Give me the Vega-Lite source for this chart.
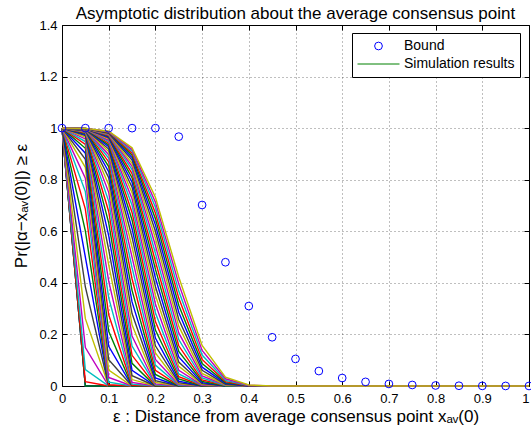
{
"$schema":"https://vega.github.io/schema/vega-lite/v6.json",
"width":467,"height":361,
"autosize":{"type":"none"},
"padding":{"left":62,"top":25,"right":2,"bottom":48},
"background":"white",
"title":{"text":"Asymptotic distribution about the average consensus point","font":"Liberation Sans","fontSize":17,"fontWeight":"normal","color":"#000","anchor":"middle","offset":-4,"frame":"group"},
"config":{"view":{"stroke":"#000","strokeWidth":1},"font":"Liberation Sans",
"axis":{"labelFont":"Liberation Sans","labelFontSize":13,"labelColor":"#000","titleFont":"Liberation Sans","titleFontSize":17,"titleFontWeight":"normal","titleColor":"#000","tickColor":"#000","tickSize":-5,"domain":false,"gridColor":"#000","gridOpacity":0.5,"gridDash":[1,3],"gridWidth":1,"labelFlush":false,"labelOverlap":false}},
"datasets":{
"bound":[{"x":0,"y":1,"k":"Bound"},{"x":0.05,"y":1,"k":"Bound"},{"x":0.1,"y":1,"k":"Bound"},{"x":0.15,"y":1,"k":"Bound"},{"x":0.2,"y":1,"k":"Bound"},{"x":0.25,"y":0.967,"k":"Bound"},{"x":0.3,"y":0.702,"k":"Bound"},{"x":0.35,"y":0.48,"k":"Bound"},{"x":0.4,"y":0.31,"k":"Bound"},{"x":0.45,"y":0.189,"k":"Bound"},{"x":0.5,"y":0.105,"k":"Bound"},{"x":0.55,"y":0.058,"k":"Bound"},{"x":0.6,"y":0.031,"k":"Bound"},{"x":0.65,"y":0.016,"k":"Bound"},{"x":0.7,"y":0.008,"k":"Bound"},{"x":0.75,"y":0.004,"k":"Bound"},{"x":0.8,"y":0.002,"k":"Bound"},{"x":0.85,"y":0.001,"k":"Bound"},{"x":0.9,"y":0.0005,"k":"Bound"},{"x":0.95,"y":0.0002,"k":"Bound"},{"x":1,"y":0.0001,"k":"Bound"}],
"sim":[
{"s":1,"x":0,"y":1},{"s":1,"x":0.05,"y":0},{"s":1,"x":1,"y":0},
{"s":2,"x":0,"y":1},{"s":2,"x":0.05,"y":0},{"s":2,"x":1,"y":0},
{"s":3,"x":0,"y":1},{"s":3,"x":0.05,"y":0},{"s":3,"x":1,"y":0},
{"s":4,"x":0,"y":1},{"s":4,"x":0.05,"y":0.017},{"s":4,"x":0.1,"y":0},{"s":4,"x":1,"y":0},
{"s":5,"x":0,"y":1},{"s":5,"x":0.05,"y":0.064},{"s":5,"x":0.1,"y":0},{"s":5,"x":1,"y":0},
{"s":6,"x":0,"y":1},{"s":6,"x":0.05,"y":0.149},{"s":6,"x":0.1,"y":0},{"s":6,"x":1,"y":0},
{"s":7,"x":0,"y":1},{"s":7,"x":0.05,"y":0.261},{"s":7,"x":0.1,"y":0},{"s":7,"x":1,"y":0},
{"s":8,"x":0,"y":1},{"s":8,"x":0.05,"y":0.384},{"s":8,"x":0.1,"y":0},{"s":8,"x":1,"y":0},
{"s":9,"x":0,"y":1},{"s":9,"x":0.05,"y":0.5},{"s":9,"x":0.1,"y":0},{"s":9,"x":1,"y":0},
{"s":10,"x":0,"y":1},{"s":10,"x":0.05,"y":0.602},{"s":10,"x":0.1,"y":0},{"s":10,"x":1,"y":0},
{"s":11,"x":0,"y":1},{"s":11,"x":0.05,"y":0.686},{"s":11,"x":0.1,"y":0.005},{"s":11,"x":0.15,"y":0},{"s":11,"x":1,"y":0},
{"s":12,"x":0,"y":1},{"s":12,"x":0.05,"y":0.754},{"s":12,"x":0.1,"y":0.015},{"s":12,"x":0.15,"y":0},{"s":12,"x":1,"y":0},
{"s":13,"x":0,"y":1},{"s":13,"x":0.05,"y":0.806},{"s":13,"x":0.1,"y":0.033},{"s":13,"x":0.15,"y":0},{"s":13,"x":1,"y":0},
{"s":14,"x":0,"y":1},{"s":14,"x":0.05,"y":0.848},{"s":14,"x":0.1,"y":0.062},{"s":14,"x":0.15,"y":0},{"s":14,"x":1,"y":0},
{"s":15,"x":0,"y":1},{"s":15,"x":0.05,"y":0.879},{"s":15,"x":0.1,"y":0.102},{"s":15,"x":0.15,"y":0},{"s":15,"x":1,"y":0},
{"s":16,"x":0,"y":1},{"s":16,"x":0.05,"y":0.903},{"s":16,"x":0.1,"y":0.154},{"s":16,"x":0.15,"y":0},{"s":16,"x":1,"y":0},
{"s":17,"x":0,"y":1},{"s":17,"x":0.05,"y":0.922},{"s":17,"x":0.1,"y":0.212},{"s":17,"x":0.15,"y":0},{"s":17,"x":1,"y":0},
{"s":18,"x":0,"y":1},{"s":18,"x":0.05,"y":0.937},{"s":18,"x":0.1,"y":0.276},{"s":18,"x":0.15,"y":0.003},{"s":18,"x":0.2,"y":0},{"s":18,"x":1,"y":0},
{"s":19,"x":0,"y":1},{"s":19,"x":0.05,"y":0.948},{"s":19,"x":0.1,"y":0.342},{"s":19,"x":0.15,"y":0.007},{"s":19,"x":0.2,"y":0},{"s":19,"x":1,"y":0},
{"s":20,"x":0,"y":1},{"s":20,"x":0.05,"y":0.958},{"s":20,"x":0.1,"y":0.407},{"s":20,"x":0.15,"y":0.014},{"s":20,"x":0.2,"y":0},{"s":20,"x":1,"y":0},
{"s":21,"x":0,"y":1},{"s":21,"x":0.05,"y":0.965},{"s":21,"x":0.1,"y":0.47},{"s":21,"x":0.15,"y":0.025},{"s":21,"x":0.2,"y":0},{"s":21,"x":1,"y":0},
{"s":22,"x":0,"y":1},{"s":22,"x":0.05,"y":0.971},{"s":22,"x":0.1,"y":0.529},{"s":22,"x":0.15,"y":0.04},{"s":22,"x":0.2,"y":0},{"s":22,"x":1,"y":0},
{"s":23,"x":0,"y":1},{"s":23,"x":0.05,"y":0.975},{"s":23,"x":0.1,"y":0.583},{"s":23,"x":0.15,"y":0.061},{"s":23,"x":0.2,"y":0},{"s":23,"x":1,"y":0},
{"s":24,"x":0,"y":1},{"s":24,"x":0.05,"y":0.979},{"s":24,"x":0.1,"y":0.633},{"s":24,"x":0.15,"y":0.088},{"s":24,"x":0.2,"y":0},{"s":24,"x":1,"y":0},
{"s":25,"x":0,"y":1},{"s":25,"x":0.05,"y":0.982},{"s":25,"x":0.1,"y":0.677},{"s":25,"x":0.15,"y":0.119},{"s":25,"x":0.2,"y":0.002},{"s":25,"x":0.25,"y":0},{"s":25,"x":1,"y":0},
{"s":26,"x":0,"y":1},{"s":26,"x":0.05,"y":0.985},{"s":26,"x":0.1,"y":0.716},{"s":26,"x":0.15,"y":0.155},{"s":26,"x":0.2,"y":0.005},{"s":26,"x":0.25,"y":0},{"s":26,"x":1,"y":0},
{"s":27,"x":0,"y":1},{"s":27,"x":0.05,"y":0.987},{"s":27,"x":0.1,"y":0.751},{"s":27,"x":0.15,"y":0.194},{"s":27,"x":0.2,"y":0.008},{"s":27,"x":0.25,"y":0},{"s":27,"x":1,"y":0},
{"s":28,"x":0,"y":1},{"s":28,"x":0.05,"y":0.988},{"s":28,"x":0.1,"y":0.781},{"s":28,"x":0.15,"y":0.237},{"s":28,"x":0.2,"y":0.014},{"s":28,"x":0.25,"y":0},{"s":28,"x":1,"y":0},
{"s":29,"x":0,"y":1},{"s":29,"x":0.05,"y":0.99},{"s":29,"x":0.1,"y":0.808},{"s":29,"x":0.15,"y":0.281},{"s":29,"x":0.2,"y":0.021},{"s":29,"x":0.25,"y":0},{"s":29,"x":1,"y":0},
{"s":30,"x":0,"y":1},{"s":30,"x":0.05,"y":0.991},{"s":30,"x":0.1,"y":0.831},{"s":30,"x":0.15,"y":0.326},{"s":30,"x":0.2,"y":0.031},{"s":30,"x":0.25,"y":0},{"s":30,"x":1,"y":0},
{"s":31,"x":0,"y":1},{"s":31,"x":0.05,"y":0.992},{"s":31,"x":0.1,"y":0.851},{"s":31,"x":0.15,"y":0.371},{"s":31,"x":0.2,"y":0.045},{"s":31,"x":0.25,"y":0},{"s":31,"x":1,"y":0},
{"s":32,"x":0,"y":1},{"s":32,"x":0.05,"y":0.993},{"s":32,"x":0.1,"y":0.869},{"s":32,"x":0.15,"y":0.416},{"s":32,"x":0.2,"y":0.061},{"s":32,"x":0.25,"y":0.002},{"s":32,"x":0.3,"y":0},{"s":32,"x":1,"y":0},
{"s":33,"x":0,"y":1},{"s":33,"x":0.05,"y":0.994},{"s":33,"x":0.1,"y":0.884},{"s":33,"x":0.15,"y":0.459},{"s":33,"x":0.2,"y":0.081},{"s":33,"x":0.25,"y":0.003},{"s":33,"x":0.3,"y":0},{"s":33,"x":1,"y":0},
{"s":34,"x":0,"y":1},{"s":34,"x":0.05,"y":0.994},{"s":34,"x":0.1,"y":0.897},{"s":34,"x":0.15,"y":0.5},{"s":34,"x":0.2,"y":0.103},{"s":34,"x":0.25,"y":0.006},{"s":34,"x":0.3,"y":0},{"s":34,"x":1,"y":0},
{"s":35,"x":0,"y":1},{"s":35,"x":0.05,"y":0.995},{"s":35,"x":0.1,"y":0.909},{"s":35,"x":0.15,"y":0.539},{"s":35,"x":0.2,"y":0.128},{"s":35,"x":0.25,"y":0.009},{"s":35,"x":0.3,"y":0},{"s":35,"x":1,"y":0},
{"s":36,"x":0,"y":1},{"s":36,"x":0.05,"y":0.995},{"s":36,"x":0.1,"y":0.919},{"s":36,"x":0.15,"y":0.577},{"s":36,"x":0.2,"y":0.156},{"s":36,"x":0.25,"y":0.013},{"s":36,"x":0.3,"y":0},{"s":36,"x":1,"y":0},
{"s":37,"x":0,"y":1},{"s":37,"x":0.05,"y":0.996},{"s":37,"x":0.1,"y":0.928},{"s":37,"x":0.15,"y":0.611},{"s":37,"x":0.2,"y":0.186},{"s":37,"x":0.25,"y":0.019},{"s":37,"x":0.3,"y":0},{"s":37,"x":1,"y":0},
{"s":38,"x":0,"y":1},{"s":38,"x":0.05,"y":0.996},{"s":38,"x":0.1,"y":0.935},{"s":38,"x":0.15,"y":0.644},{"s":38,"x":0.2,"y":0.217},{"s":38,"x":0.25,"y":0.027},{"s":38,"x":0.3,"y":0},{"s":38,"x":1,"y":0},
{"s":39,"x":0,"y":1},{"s":39,"x":0.05,"y":0.997},{"s":39,"x":0.1,"y":0.942},{"s":39,"x":0.15,"y":0.673},{"s":39,"x":0.2,"y":0.25},{"s":39,"x":0.25,"y":0.036},{"s":39,"x":0.3,"y":0.002},{"s":39,"x":0.35,"y":0},{"s":39,"x":1,"y":0},
{"s":40,"x":0,"y":1},{"s":40,"x":0.05,"y":0.997},{"s":40,"x":0.1,"y":0.948},{"s":40,"x":0.15,"y":0.701},{"s":40,"x":0.2,"y":0.284},{"s":40,"x":0.25,"y":0.047},{"s":40,"x":0.3,"y":0.003},{"s":40,"x":0.35,"y":0},{"s":40,"x":1,"y":0},
{"s":41,"x":0,"y":1},{"s":41,"x":0.05,"y":0.997},{"s":41,"x":0.1,"y":0.953},{"s":41,"x":0.15,"y":0.726},{"s":41,"x":0.2,"y":0.318},{"s":41,"x":0.25,"y":0.061},{"s":41,"x":0.3,"y":0.004},{"s":41,"x":0.35,"y":0},{"s":41,"x":1,"y":0},
{"s":42,"x":0,"y":1},{"s":42,"x":0.05,"y":0.997},{"s":42,"x":0.1,"y":0.958},{"s":42,"x":0.15,"y":0.75},{"s":42,"x":0.2,"y":0.352},{"s":42,"x":0.25,"y":0.076},{"s":42,"x":0.3,"y":0.007},{"s":42,"x":0.35,"y":0},{"s":42,"x":1,"y":0},
{"s":43,"x":0,"y":1},{"s":43,"x":0.05,"y":0.997},{"s":43,"x":0.1,"y":0.962},{"s":43,"x":0.15,"y":0.771},{"s":43,"x":0.2,"y":0.386},{"s":43,"x":0.25,"y":0.093},{"s":43,"x":0.3,"y":0.009},{"s":43,"x":0.35,"y":0},{"s":43,"x":1,"y":0},
{"s":44,"x":0,"y":1},{"s":44,"x":0.05,"y":0.998},{"s":44,"x":0.1,"y":0.965},{"s":44,"x":0.15,"y":0.79},{"s":44,"x":0.2,"y":0.42},{"s":44,"x":0.25,"y":0.113},{"s":44,"x":0.3,"y":0.013},{"s":44,"x":0.35,"y":0},{"s":44,"x":1,"y":0},
{"s":45,"x":0,"y":1},{"s":45,"x":0.05,"y":0.998},{"s":45,"x":0.1,"y":0.969},{"s":45,"x":0.15,"y":0.808},{"s":45,"x":0.2,"y":0.453},{"s":45,"x":0.25,"y":0.134},{"s":45,"x":0.3,"y":0.018},{"s":45,"x":0.35,"y":0},{"s":45,"x":1,"y":0},
{"s":46,"x":0,"y":1},{"s":46,"x":0.05,"y":0.998},{"s":46,"x":0.1,"y":0.971},{"s":46,"x":0.15,"y":0.824},{"s":46,"x":0.2,"y":0.484},{"s":46,"x":0.25,"y":0.156},{"s":46,"x":0.3,"y":0.024},{"s":46,"x":0.35,"y":0.002},{"s":46,"x":0.4,"y":0},{"s":46,"x":1,"y":0},
{"s":47,"x":0,"y":1},{"s":47,"x":0.05,"y":0.998},{"s":47,"x":0.1,"y":0.974},{"s":47,"x":0.15,"y":0.839},{"s":47,"x":0.2,"y":0.515},{"s":47,"x":0.25,"y":0.18},{"s":47,"x":0.3,"y":0.031},{"s":47,"x":0.35,"y":0.002},{"s":47,"x":0.4,"y":0},{"s":47,"x":1,"y":0},
{"s":48,"x":0,"y":1},{"s":48,"x":0.05,"y":0.998},{"s":48,"x":0.1,"y":0.976},{"s":48,"x":0.15,"y":0.852},{"s":48,"x":0.2,"y":0.545},{"s":48,"x":0.25,"y":0.206},{"s":48,"x":0.3,"y":0.039},{"s":48,"x":0.35,"y":0.004},{"s":48,"x":0.4,"y":0},{"s":48,"x":1,"y":0},
{"s":49,"x":0,"y":1},{"s":49,"x":0.05,"y":0.998},{"s":49,"x":0.1,"y":0.978},{"s":49,"x":0.15,"y":0.864},{"s":49,"x":0.2,"y":0.573},{"s":49,"x":0.25,"y":0.232},{"s":49,"x":0.3,"y":0.049},{"s":49,"x":0.35,"y":0.005},{"s":49,"x":0.4,"y":0},{"s":49,"x":1,"y":0},
{"s":50,"x":0,"y":1},{"s":50,"x":0.05,"y":0.998},{"s":50,"x":0.1,"y":0.98},{"s":50,"x":0.15,"y":0.876},{"s":50,"x":0.2,"y":0.6},{"s":50,"x":0.25,"y":0.258},{"s":50,"x":0.3,"y":0.061},{"s":50,"x":0.35,"y":0.007},{"s":50,"x":0.4,"y":0},{"s":50,"x":1,"y":0},
{"s":51,"x":0,"y":1},{"s":51,"x":0.05,"y":0.999},{"s":51,"x":0.1,"y":0.982},{"s":51,"x":0.15,"y":0.886},{"s":51,"x":0.2,"y":0.625},{"s":51,"x":0.25,"y":0.286},{"s":51,"x":0.3,"y":0.073},{"s":51,"x":0.35,"y":0.01},{"s":51,"x":0.4,"y":0},{"s":51,"x":1,"y":0},
{"s":52,"x":0,"y":1},{"s":52,"x":0.05,"y":0.999},{"s":52,"x":0.1,"y":0.983},{"s":52,"x":0.15,"y":0.895},{"s":52,"x":0.2,"y":0.649},{"s":52,"x":0.25,"y":0.313},{"s":52,"x":0.3,"y":0.087},{"s":52,"x":0.35,"y":0.013},{"s":52,"x":0.4,"y":0.001},{"s":52,"x":0.45,"y":0},{"s":52,"x":1,"y":0},
{"s":53,"x":0,"y":1},{"s":53,"x":0.05,"y":0.999},{"s":53,"x":0.1,"y":0.984},{"s":53,"x":0.15,"y":0.903},{"s":53,"x":0.2,"y":0.671},{"s":53,"x":0.25,"y":0.341},{"s":53,"x":0.3,"y":0.103},{"s":53,"x":0.35,"y":0.017},{"s":53,"x":0.4,"y":0.001},{"s":53,"x":0.45,"y":0},{"s":53,"x":1,"y":0},
{"s":54,"x":0,"y":1},{"s":54,"x":0.05,"y":0.999},{"s":54,"x":0.1,"y":0.986},{"s":54,"x":0.15,"y":0.911},{"s":54,"x":0.2,"y":0.693},{"s":54,"x":0.25,"y":0.368},{"s":54,"x":0.3,"y":0.12},{"s":54,"x":0.35,"y":0.022},{"s":54,"x":0.4,"y":0.002},{"s":54,"x":0.45,"y":0},{"s":54,"x":1,"y":0},
{"s":55,"x":0,"y":1},{"s":55,"x":0.05,"y":0.999},{"s":55,"x":0.1,"y":0.987},{"s":55,"x":0.15,"y":0.917},{"s":55,"x":0.2,"y":0.713},{"s":55,"x":0.25,"y":0.396},{"s":55,"x":0.3,"y":0.138},{"s":55,"x":0.35,"y":0.028},{"s":55,"x":0.4,"y":0.003},{"s":55,"x":0.45,"y":0},{"s":55,"x":1,"y":0},
{"s":56,"x":0,"y":1},{"s":56,"x":0.05,"y":0.999},{"s":56,"x":0.1,"y":0.988},{"s":56,"x":0.15,"y":0.924},{"s":56,"x":0.2,"y":0.732},{"s":56,"x":0.25,"y":0.423},{"s":56,"x":0.3,"y":0.157},{"s":56,"x":0.35,"y":0.034},{"s":56,"x":0.4,"y":0.004},{"s":56,"x":0.45,"y":0},{"s":56,"x":1,"y":0}
]},
"layer":[
{"data":{"name":"sim"},
 "mark":{"type":"line","strokeWidth":1.4,"clip":false},
 "encoding":{
  "x":{"field":"x","type":"quantitative","scale":{"domain":[0,1],"nice":false,"zero":false},
       "axis":{"orient":"bottom","values":[0,0.1,0.2,0.3,0.4,0.5,0.6,0.7,0.8,0.9,1],"format":".1~f","grid":true,"labelPadding":11,"labelAlign":{"condition":{"test":"datum.value === 1","value":"right"},"value":"center"},"title":"ε : Distance from average consensus point xₐᵥ(0)","titlePadding":3}},
  "y":{"field":"y","type":"quantitative","scale":{"domain":[0,1.4],"nice":false,"zero":false},
       "axis":{"orient":"left","values":[0,0.2,0.4,0.6,0.8,1,1.2,1.4],"format":".1~f","grid":true,"labelPadding":10,"title":"Pr(|α−xₐᵥ(0)|) ≥ ε","titlePadding":8}},
  "color":{"field":"s","type":"nominal","scale":{"range":["#404040","#0000ff","#008000","#ff0000","#00bfbf","#bf00bf","#bfbf00"]},"legend":null}
 }},
{"data":{"name":"bound"},
 "mark":{"type":"point","filled":false,"strokeWidth":1,"opacity":1,"clip":false},
 "encoding":{
  "x":{"field":"x","type":"quantitative","axis":{"orient":"top","values":[0,0.1,0.2,0.3,0.4,0.5,0.6,0.7,0.8,0.9,1],"labels":false,"grid":false,"title":null}},
  "y":{"field":"y","type":"quantitative","axis":{"orient":"right","values":[0,0.2,0.4,0.6,0.8,1,1.2,1.4],"labels":false,"grid":false,"title":null}},
  "shape":{"field":"k","type":"ordinal","scale":{"domain":["Bound","Simulation results"],"range":["circle","stroke"]},
   "legend":{"title":null,"orient":"none","legendX":290,"legendY":8,"strokeColor":"#000","fillColor":"#fff","padding":5,"clipHeight":16,"rowPadding":2,"labelFont":"Liberation Sans","labelFontSize":14,"labelOffset":4,"labelColor":"#000","symbolStrokeWidth":1}},
  "stroke":{"field":"k","type":"ordinal","scale":{"domain":["Bound","Simulation results"],"range":["#0000ff","#008000"]},
   "legend":{"title":null,"orient":"none","legendX":290,"legendY":8,"strokeColor":"#000","fillColor":"#fff","padding":5,"clipHeight":16,"rowPadding":2,"labelFont":"Liberation Sans","labelFontSize":14,"labelOffset":4,"labelColor":"#000","symbolStrokeWidth":1}},
  "size":{"field":"k","type":"ordinal","scale":{"domain":["Bound","Simulation results"],"range":[60,1764]},
   "legend":{"title":null,"orient":"none","legendX":290,"legendY":8,"strokeColor":"#000","fillColor":"#fff","padding":5,"clipHeight":16,"rowPadding":2,"labelFont":"Liberation Sans","labelFontSize":14,"labelOffset":4,"labelColor":"#000","symbolStrokeWidth":1}}
 }}
],
"resolve":{"axis":{"x":"independent","y":"independent"}}
}
